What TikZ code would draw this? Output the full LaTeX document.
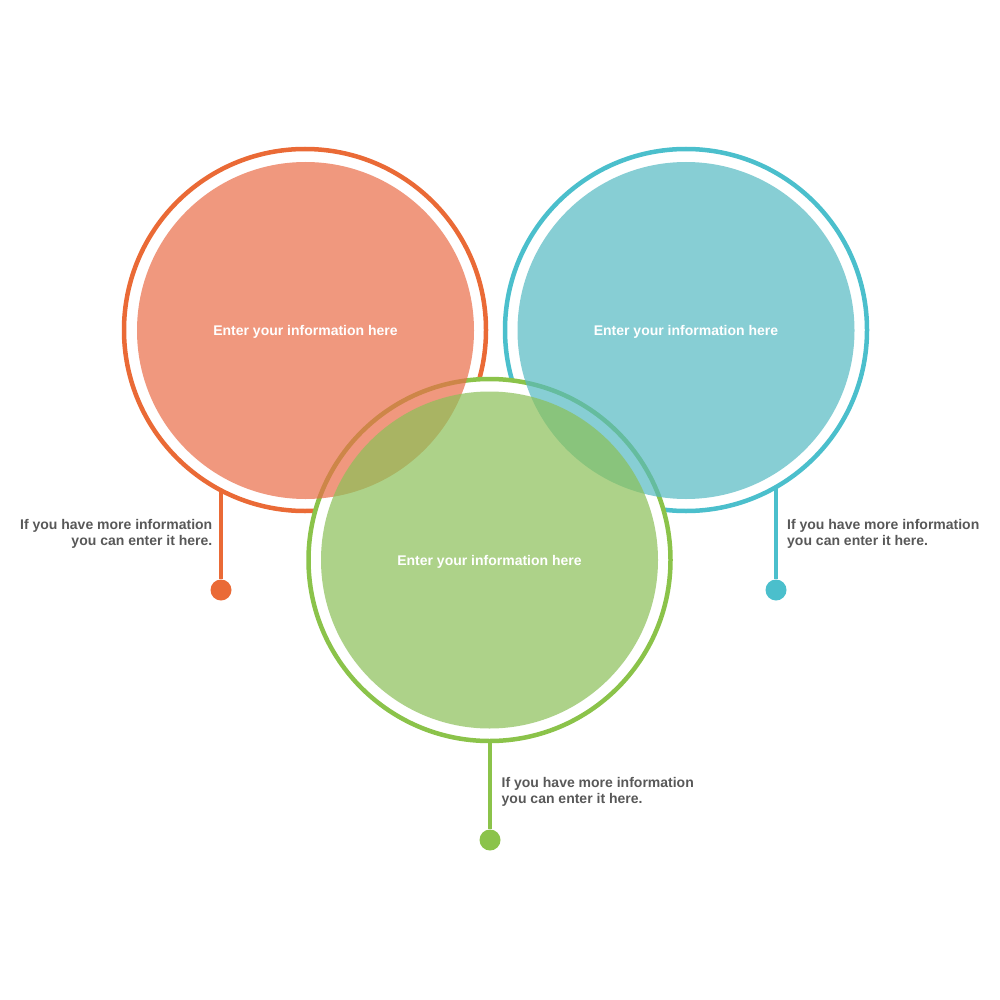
\documentclass[tikz,border=0pt]{standalone}
\usepackage{fontspec}
\setmainfont{Liberation Sans}
\usetikzlibrary{positioning}
\definecolor{ringred}{RGB}{234,106,54}
\definecolor{ringteal}{RGB}{75,191,204}
\definecolor{ringgreen}{RGB}{139,195,74}
\definecolor{discred}{RGB}{234,109,72}
\definecolor{discteal}{RGB}{85,186,195}
\definecolor{discgreen}{RGB}{139,192,88}
\definecolor{infogray}{RGB}{88,88,88}
\tikzset{
  ring/.style={circle,draw=#1,fill=white,line width=4.5pt,minimum size=362pt,inner sep=0pt},
  disc/.style={circle,fill=#1,fill opacity=0.7,text opacity=1,text=white,minimum size=337pt,inner sep=0pt,text depth=0pt,font=\bfseries\fontsize{14}{16}\selectfont},
  stem/.style={draw=#1,line width=4.5pt},
  dot/.style={circle,fill=#1,minimum size=21pt,inner sep=0pt},
  info/.style={text=infogray,inner sep=0pt,font=\bfseries\fontsize{14}{16}\selectfont}
}
\begin{document}
\begin{tikzpicture}[x=1pt,y=-1pt]
  \useasboundingbox (0,0) rectangle (1000,1000);
  % rings first, each with a white inside
  \node[ring=ringred] (redring) at (305,330) {};
  \node[ring=ringteal] (tealring) at (686,330) {};
  \node[ring=ringgreen] (greenring) at (489.5,560) {};
  % coloured discs on top
  \node[disc=discred] (reddisc) at (305.5,330.5) {Enter your information here};
  \node[disc=discteal] (tealdisc) at (686,330.5) {Enter your information here};
  \node[disc=discgreen] (greendisc) at (489.5,560) {Enter your information here};
  % stems and dots
  \coordinate (redtop) at (221,490);
  \coordinate (tealtop) at (776,487);
  \coordinate (greentop) at (490,741);
  \node[dot=ringred] (reddot) at (221,590) {};
  \node[dot=ringteal] (tealdot) at (776,590) {};
  \node[dot=ringgreen] (greendot) at (490,840) {};
  \draw[stem=ringred] (reddot) -- (redtop);
  \draw[stem=ringteal] (tealdot) -- (tealtop);
  \draw[stem=ringgreen] (greendot) -- (greentop);
  \node[info,align=right,anchor=north east] (redinfo) at (212.5,519) {If you have more information\\you can enter it here.};
  \node[info,align=left,anchor=north west] (tealinfo) at (787,519) {If you have more information\\you can enter it here.};
  \node[info,align=left,anchor=north west] (greeninfo) at (501.5,777) {If you have more information\\you can enter it here.};
\end{tikzpicture}
\end{document}
